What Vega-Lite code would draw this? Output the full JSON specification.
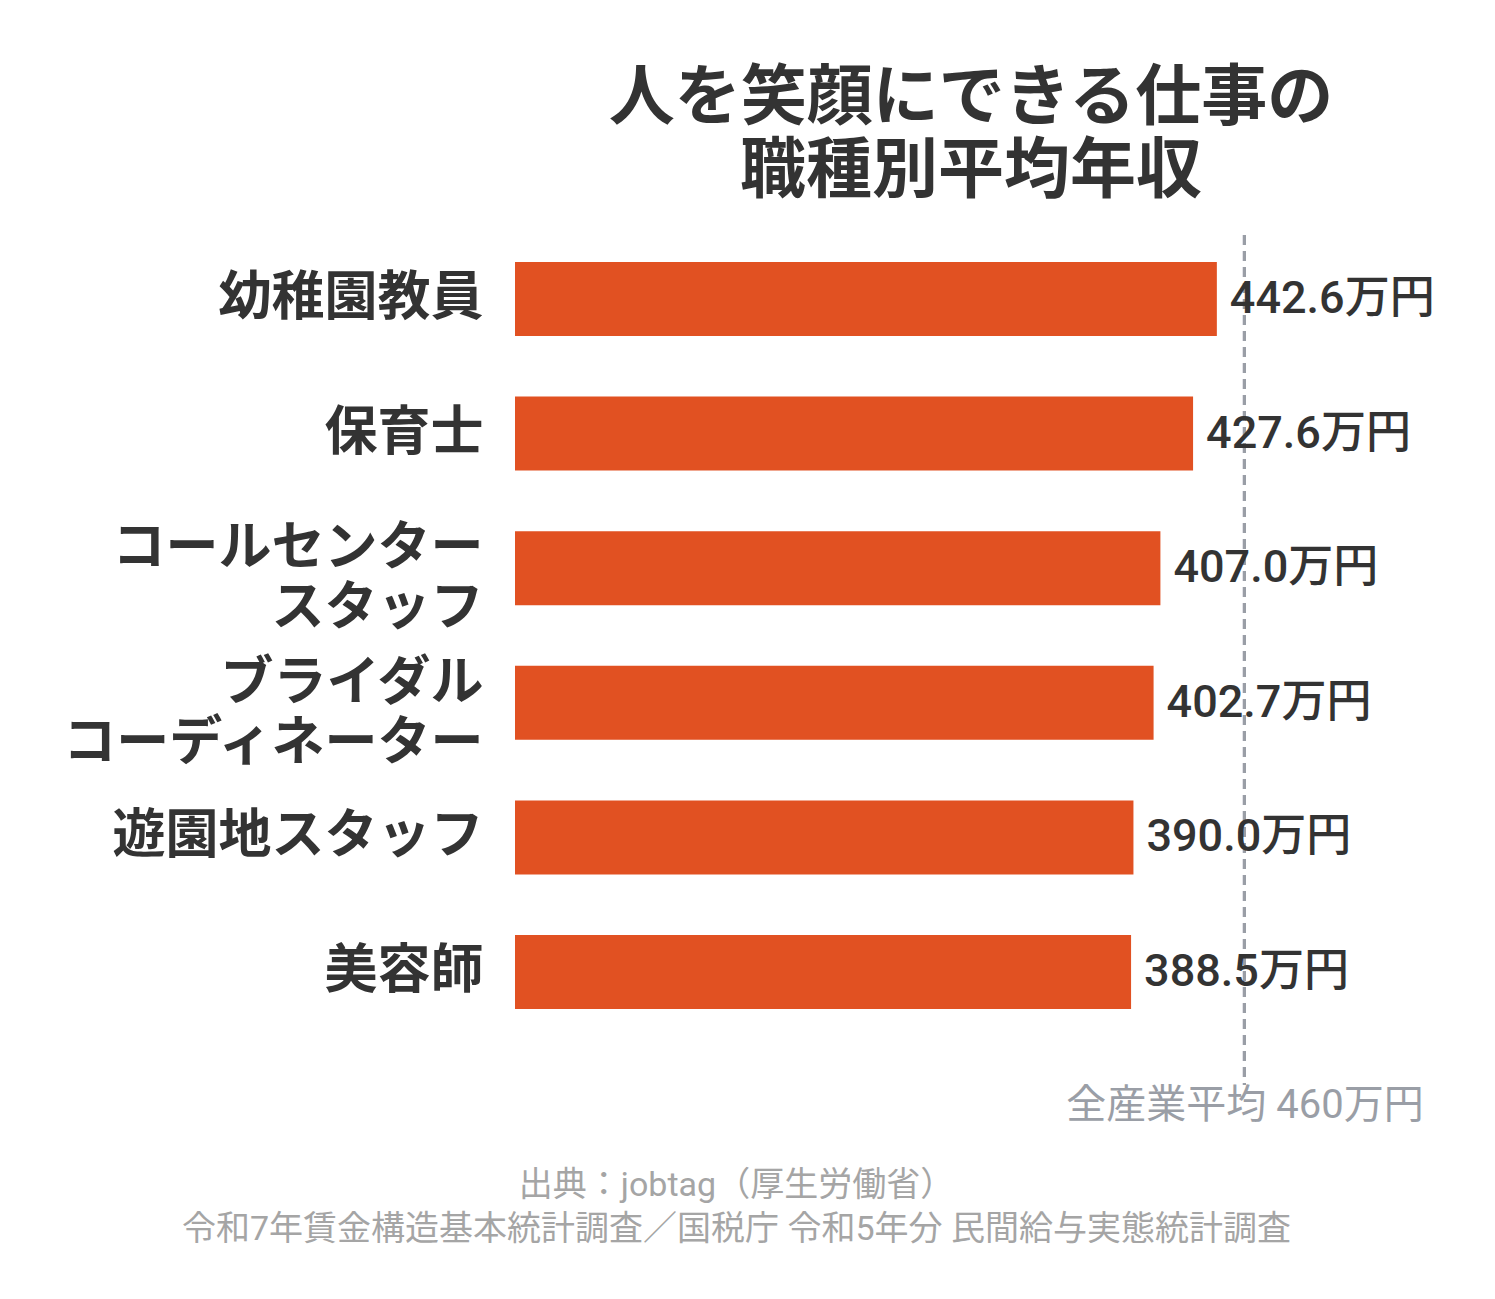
{
  "$schema": "https://vega.github.io/schema/vega-lite/v6.json",
  "width": 980,
  "height": 850,
  "autosize": {"type": "none"},
  "padding": {"left": 515, "top": 235, "right": 0, "bottom": 214},
  "background": "#ffffff",
  "config": {
    "font": "Noto Sans CJK JP",
    "view": {"stroke": null}
  },
  "title": {
    "text": ["人を笑顔にできる仕事の", "職種別平均年収"],
    "fontSize": 66,
    "fontWeight": "bold",
    "color": "#333333",
    "lineHeight": 73,
    "anchor": "middle",
    "frame": "group",
    "dx": -34,
    "offset": 28,
    "font": "Noto Sans CJK JP"
  },
  "data": {
    "values": [
      {"job": "幼稚園教員", "value": 442.6, "label": "442.6万円"},
      {"job": "保育士", "value": 427.6, "label": "427.6万円"},
      {"job": "コールセンター\nスタッフ", "value": 407.0, "label": "407.0万円"},
      {"job": "ブライダル\nコーディネーター", "value": 402.7, "label": "402.7万円"},
      {"job": "遊園地スタッフ", "value": 390.0, "label": "390.0万円"},
      {"job": "美容師", "value": 388.5, "label": "388.5万円"}
    ]
  },
  "layer": [
    {
      "mark": {"type": "bar", "color": "#E15122"},
      "encoding": {
        "y": {
          "field": "job",
          "type": "nominal",
          "sort": null,
          "scale": {"paddingInner": 0.45, "paddingOuter": 0.2, "range": [0, 801]},
          "axis": {
            "title": null,
            "domain": false,
            "ticks": false,
            "labelExpr": "split(datum.label, '\\n')",
            "labelFontSize": 53,
            "labelFontWeight": "bold",
            "labelColor": "#333333",
            "labelPadding": 32,
            "labelLineHeight": 60,
            "labelLimit": 600,
            "labelFont": "Noto Sans CJK JP",
            "labelOffset": {"condition": {"test": "indexof(datum.label, '\\n') >= 0", "value": -19}, "value": 0}
          }
        },
        "x": {
          "field": "value",
          "type": "quantitative",
          "scale": {"domain": [0, 618], "nice": false, "zero": true},
          "axis": {
            "values": [460],
            "labelExpr": "'全産業平均 460万円'",
            "labelFontSize": 40,
            "labelColor": "#9a9ea6",
            "labelFont": "Roboto, Noto Sans CJK JP",
            "labelLimit": 800,
            "labelPadding": 0,
            "tickSize": 0,
            "ticks": false,
            "domain": false,
            "grid": false,
            "title": ["出典：jobtag（厚生労働省）", "令和7年賃金構造基本統計調査／国税庁 令和5年分 民間給与実態統計調査"],
            "titleFontSize": 34,
            "titleFontWeight": "normal",
            "titleColor": "#a5a5a5",
            "titleFont": "Roboto, Noto Sans CJK JP",
            "titleLineHeight": 44,
            "titleX": 221,
            "titleY": 83,
            "titleAlign": "center",
            "titleBaseline": "top",
            "titleAnchor": "middle"
          }
        }
      }
    },
    {
      "mark": {"type": "rule", "color": "#9a9ea6", "strokeWidth": 3, "strokeDash": [10, 6]},
      "encoding": {"x": {"datum": 460, "type": "quantitative"}}
    },
    {
      "mark": {"type": "text", "align": "left", "baseline": "middle", "dx": 13, "fontSize": 45, "fontWeight": 500, "color": "#333333", "font": "Roboto, Noto Sans CJK JP"},
      "encoding": {
        "y": {"field": "job", "type": "nominal", "sort": null},
        "x": {"field": "value", "type": "quantitative"},
        "text": {"field": "label"}
      }
    }
  ]
}
